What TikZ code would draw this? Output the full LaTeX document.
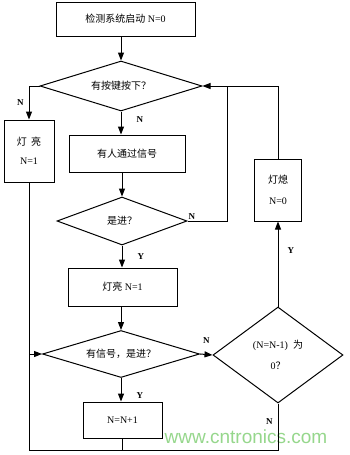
\documentclass[tikz,border=0pt]{standalone}
\usepackage{fontspec}
\setmainfont{Liberation Serif}
\newfontfamily\cjk{Noto Sans CJK SC}
\newfontfamily\marksans{Liberation Sans}
\usepackage{xcolor}
\usepackage{tikz}
\usetikzlibrary{arrows.meta,positioning,shapes.geometric,calc}

\definecolor{markgreen}{RGB}{150,215,140}
\newcommand{\zh}[1]{{\cjk #1}}

\begin{document}
\begin{tikzpicture}[
    x=1pt, y=-1pt,
    process/.style={draw, line width=1pt, inner sep=1pt, align=center, font=\fontsize{10}{12}\selectfont},
    decision/.style={draw, diamond, line width=1pt, inner sep=0pt, align=center, font=\fontsize{10}{12}\selectfont},
    flow/.style={line width=1pt},
    branch_label/.style={font=\fontsize{9}{10}\selectfont\bfseries, inner sep=1pt},
    >={Triangle[length=8pt,width=6pt]}
]
    \fill[white] (0,0) rectangle (349,455);
    \useasboundingbox (0,0) rectangle (349,455);

    % Main column
    \node[process, minimum width=139pt, minimum height=34pt] (start) at (125.5,19) {\zh{检测系统启动} N=0};
    \node[decision, minimum width=162pt, minimum height=50pt, aspect=3.2] (key) at (121,86) {\zh{有按键按下？}};
    \node[process, minimum width=116pt, minimum height=37pt] (pass) at (127,153.5) {\zh{有人通过信号}};
    \node[decision, minimum width=130pt, minimum height=48pt, aspect=2.7] (enter) at (122,221) {\zh{是进？}};
    \node[process, minimum width=109pt, minimum height=38pt] (lighton) at (122.5,287) {\zh{灯亮} N=1};
    \node[decision, minimum width=157pt, minimum height=47pt, aspect=3.3] (again) at (121,354) {\zh{有信号，是进？}};
    \node[process, minimum width=79pt, minimum height=36pt] (count) at (122.5,420) {N=N+1};

    % Side nodes
    \node[process, minimum width=50pt, minimum height=62pt] (ledon) at (29,151) {\zh{灯\ \ 亮}\\[7pt]N=1};
    \node[decision, minimum width=130pt, minimum height=96pt, aspect=1.35] (zero) at (278,355) {(N=N-1)\ \ \zh{为}\\[9pt]0\zh{？}};
    \node[process, minimum width=47pt, minimum height=62pt] (ledoff) at (278,190) {\zh{灯熄}\\[9pt]N=0};

    % Watermark
    \node[font=\marksans\fontsize{19}{20}\selectfont, text=markgreen] (mark) at (246,437) {www.cntronics.com};

    % Joints
    \coordinate (loop) at (227,86);
    \coordinate (base) at (29,450);

    % Edges
    \draw[flow, ->] (key.north |- start.south) -- (key.north);
    \draw[flow, ->] (key.west) -| node[branch_label, pos=0.75, left=4pt] {N} (ledon.north);
    \draw[flow, ->] (key.south) -- node[branch_label, pos=0.35, right=14pt] {N} (key.south |- pass.north);
    \draw[flow, ->] (enter.north |- pass.south) -- (enter.north);
    \draw[flow, ->] (enter.east) -| (loop) -- (key.east);
    \node[branch_label, above right] (enter_n) at (enter.east) {N};
    \draw[flow] (ledoff.north) |- (loop);
    \draw[flow, ->] (enter.south) -- node[branch_label, right=14pt] {Y} (enter.south |- lighton.north);
    \draw[flow, ->] (again.north |- lighton.south) -- (again.north);
    \draw[flow, ->] (again.east) -- node[branch_label, above=10pt] {N} (zero.west);
    \draw[flow, ->] (again.south) -- node[branch_label, pos=0.75, right=14pt] {Y} (again.south |- count.north);
    \draw[flow, ->] (zero.north) -- node[branch_label, pos=0.66, right=8pt] {Y} (ledoff.south);

    % Return path
    \draw[flow] (zero.south) |- node[branch_label, pos=0.19, left=4pt] {N} (base) -- (ledon.south);
    \draw[flow] (count.south) -- (count.south |- base);
    \draw[flow, ->] (ledon.south |- again.west) -- (again.west);
\end{tikzpicture}
\end{document}
